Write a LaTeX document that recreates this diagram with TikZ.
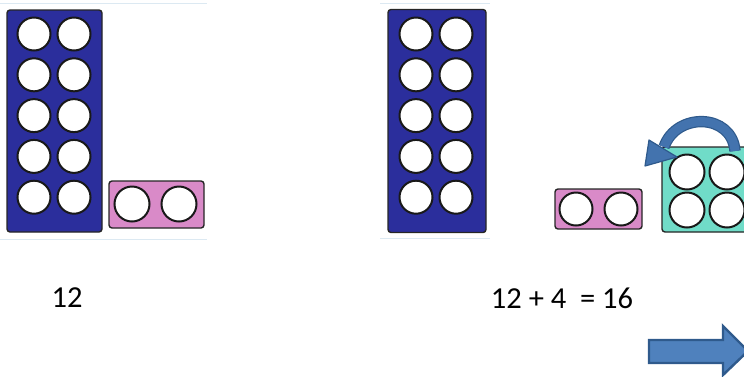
\documentclass[tikz,border=0pt]{standalone}
\usepackage{fontspec}
\setmainfont{Carlito}
\usetikzlibrary{arrows.meta,positioning}
\definecolor{frameblue}{HTML}{2B2E9C}
\definecolor{framepink}{HTML}{D98AC8}
\definecolor{framegreen}{HTML}{70DCC8}
\definecolor{arrowfill}{HTML}{4F81BD}
\definecolor{curvefill}{HTML}{4373AE}
\definecolor{arrowline}{HTML}{2F5A8C}
\definecolor{panelline}{HTML}{DCE9F2}

\begin{document}
\begin{tikzpicture}[x=1pt, y=-1pt,
  F/.style={draw=black!85, line width=1.4pt, rounded corners=3pt, fill=#1, inner sep=0pt},
  dot/.style={circle, draw=black!90, line width=2pt, fill=white, inner sep=0pt, minimum size=#1},
  dot/.default=33pt,
  rim/.style={draw=panelline, line width=0.8pt},
  sum/.style={font=\fontsize{30.5}{36}\selectfont, inner sep=0pt},
]
\useasboundingbox (0,0) rectangle (744,376);
\clip (0,0) rectangle (744,376);

% picture edges
\draw[rim] (0,3.5) -- (207,3.5);
\draw[rim] (0,239.5) -- (207,239.5);
\draw[rim] (380,3.5) -- (490,3.5);
\draw[rim] (380,238.5) -- (490,238.5);

% left: ten and two
\node[F=frameblue, minimum width=95pt, minimum height=222pt] (tenL) at (54.5,121) {};
\foreach \r in {1,...,5}
  \foreach \c in {1,2}
    \node[dot] (L\r\c) at ({34+40*(\c-1)},{34+40.8*(\r-1)}) {};
\node[F=framepink, minimum width=95pt, minimum height=47pt] (twoL) at (156.5,204.5) {};
\node[dot=35pt] (pL1) at (132,204) {};
\node[dot=35pt] (pL2) at (179,204) {};

% right: ten, two and four
\node[F=frameblue, minimum width=98pt, minimum height=223pt] (tenR) at (437,121) {};
\foreach \r in {1,...,5}
  \foreach \c in {1,2}
    \node[dot] (R\r\c) at ({416+40*(\c-1)},{34+40.8*(\r-1)}) {};
\node[F=framepink, minimum width=87pt, minimum height=40pt] (twoR) at (598.5,209) {};
\node[dot] (pR1) at (576,209) {};
\node[dot] (pR2) at (621,209) {};
\node[F=framegreen, minimum width=96pt, minimum height=85pt] (four) at (710,189.5) {};
\node[dot=35pt] (g11) at (687,172) {};
\node[dot=35pt] (g12) at (727,172) {};
\node[dot=35pt] (g21) at (687,210) {};
\node[dot=35pt] (g22) at (727,210) {};

% swap arrow over the four
\coordinate (swapA) at (735,151);
\coordinate (swapB) at (664,147);
\draw[arrowline, line width=1.2pt, double=curvefill, double distance=9pt]
  (swapA) .. controls (732,113) and (676,112) .. (swapB);
\draw[fill=curvefill, draw=arrowline, line width=1.2pt, line join=round]
  (649,140) -- (677,157) -- (645,166) -- cycle;

% sums
\node[sum] (twelve) at (67,298) {12};
\node[sum] (total) at (562,298) {12 + 4\ \ = 16};

% next arrow
\draw[fill=arrowfill, draw=arrowline, line width=2.4pt]
  (649,340) -- (723,340) -- (723,326) -- (748,351) -- (723,375)
  -- (723,363) -- (649,363) -- cycle;
\end{tikzpicture}
\end{document}
